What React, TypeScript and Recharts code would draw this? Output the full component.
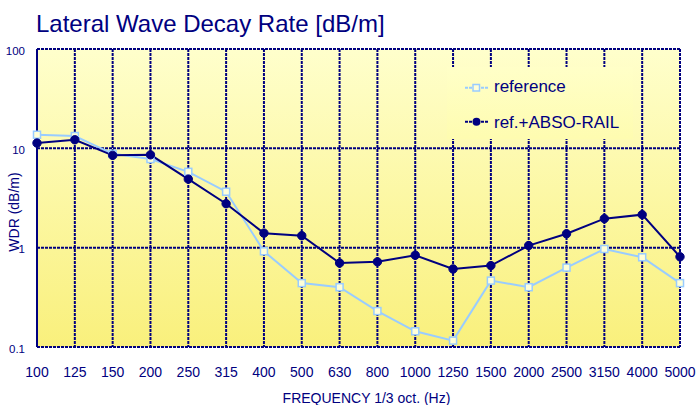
import React from 'react';
import { LineChart, Line, XAxis, YAxis, CartesianGrid, Legend } from 'recharts';

const frequencies = ['100', '125', '150', '200', '250', '315', '400', '500', '630', '800', '1000', '1250', '1500', '2000', '2500', '3150', '4000', '5000'];
const referenceWdr = [13.7, 13.3, 8.8, 7.8, 5.8, 3.66, 0.92, 0.44, 0.4, 0.23, 0.144, 0.116, 0.466, 0.4, 0.63, 0.97, 0.8, 0.44];
const absoRailWdr = [11.3, 12.2, 8.5, 8.6, 4.9, 2.77, 1.4, 1.32, 0.7, 0.72, 0.84, 0.61, 0.66, 1.05, 1.38, 1.96, 2.15, 0.81];
const yTicks = [0.1, 1, 10, 100];
const yTickLabels = ['0.1', '1', '10', '100'];
const seriesNames = ['reference', 'ref.+ABSO-RAIL'];

const data = frequencies.map((f, i) => ({ freq: f, reference: referenceWdr[i], absoRail: absoRailWdr[i] }));

const NAVY = '#000080';
const LIGHT = '#99CCFF';
const FONT = '"Liberation Sans", Arial, sans-serif';

const SquareDot = (props: any) => {
  const { cx, cy, index } = props;
  if (cx == null || cy == null) return <g key={`sq-${index}`} />;
  return <rect key={`sq-${index}`} x={cx - 3.5} y={cy - 3.5} width={7} height={7} fill="#FFFFD8" stroke={LIGHT} strokeWidth={1.5} />;
};

const CircleDot = (props: any) => {
  const { cx, cy, index } = props;
  if (cx == null || cy == null) return <g key={`ci-${index}`} />;
  return <circle key={`ci-${index}`} cx={cx} cy={cy} r={4.2} fill={NAVY} stroke={NAVY} strokeWidth={1} />;
};

const LegendContent = () => (
  <div
    style={{
      width: '100%',
      height: '100%',
      background: 'linear-gradient(#FFFFC8, #FEFCB0)',
      fontFamily: FONT,
      fontSize: 17,
      color: NAVY,
      position: 'relative',
    }}
  >
    <svg width={30} height={80} style={{ position: 'absolute', left: 16, top: 0 }}>
      <line x1={2} x2={25} y1={20.7} y2={20.7} stroke={LIGHT} strokeWidth={2} strokeDasharray="3 1" />
      <rect x={10} y={17.5} width={6.5} height={6.5} fill="#FFFFD8" stroke={LIGHT} strokeWidth={1.5} />
      <line x1={2} x2={25} y1={54.7} y2={54.7} stroke={NAVY} strokeWidth={2} strokeDasharray="3 1" />
      <circle cx={13.5} cy={54.7} r={4} fill={NAVY} />
    </svg>
    <div style={{ position: 'absolute', left: 47, top: 10, lineHeight: '20px', whiteSpace: 'nowrap' }}>{seriesNames[0]}</div>
    <div style={{ position: 'absolute', left: 47, top: 46, lineHeight: '20px', whiteSpace: 'nowrap' }}>{seriesNames[1]}</div>
  </div>
);

const YAxisTitle = () => (
  <text x={19} y={212} transform="rotate(-90 19 212)" textAnchor="middle" fill={NAVY} fontSize={14} fontFamily={FONT}>
    WDR (dB/m)
  </text>
);

export default function App() {
  return (
    <div style={{ position: 'absolute', left: 0, top: 0, width: 697, height: 405, background: '#fff' }}>
      <div
        style={{
          position: 'absolute',
          left: 36,
          top: 12,
          fontFamily: FONT,
          fontSize: 24,
          lineHeight: '24px',
          color: NAVY,
          whiteSpace: 'nowrap',
          zIndex: 2,
        }}
      >
        Lateral Wave Decay Rate [dB/m]
      </div>
      <LineChart width={697} height={405} data={data} margin={{ top: 49, right: 17, bottom: 28, left: 7 }}>
        <defs>
          <linearGradient id="plotBg" x1="0" y1="0" x2="0" y2="1">
            <stop offset="0%" stopColor="#FFFFCC" />
            <stop offset="100%" stopColor="#F9F07C" />
          </linearGradient>
        </defs>
        <CartesianGrid fill="url(#plotBg)" stroke={NAVY} strokeWidth={2} strokeDasharray="3 1" fillOpacity={1} />
        <XAxis
          dataKey="freq"
          height={30}
          axisLine={false}
          tickLine={false}
          tickSize={0}
          tickMargin={20}
          interval={0}
          tick={{ fill: NAVY, fontSize: 14, fontFamily: FONT }}
          label={{ value: 'FREQUENCY 1/3 oct. (Hz)', position: 'bottom', offset: 16.5, dx: 8, fill: NAVY, fontSize: 14, fontFamily: FONT }}
        />
        <YAxis
          scale="log"
          domain={[0.1, 100]}
          ticks={yTicks}
          allowDataOverflow
          width={30}
          axisLine={{ stroke: NAVY, strokeWidth: 2 }}
          tickLine={false}
          tickSize={0}
          tickMargin={12}
          tickFormatter={(v: number) => yTickLabels[yTicks.indexOf(v)] ?? String(v)}
          tick={{ fill: NAVY, fontSize: 11.5, fontFamily: FONT, dy: 1.5 }}
          label={{ content: YAxisTitle }}
        />
        <Legend
          layout="horizontal"
          verticalAlign="middle"
          align="center"
          content={LegendContent}
          wrapperStyle={{ position: 'absolute', left: 447, top: 67, width: 186, height: 72 }}
        />
        <Line
          type="linear"
          dataKey="reference"
          name={seriesNames[0]}
          stroke={LIGHT}
          strokeWidth={2}
          dot={SquareDot}
          activeDot={false}
          isAnimationActive={false}
        />
        <Line
          type="linear"
          dataKey="absoRail"
          name={seriesNames[1]}
          stroke={NAVY}
          strokeWidth={2}
          dot={CircleDot}
          activeDot={false}
          isAnimationActive={false}
        />
      </LineChart>
    </div>
  );
}
